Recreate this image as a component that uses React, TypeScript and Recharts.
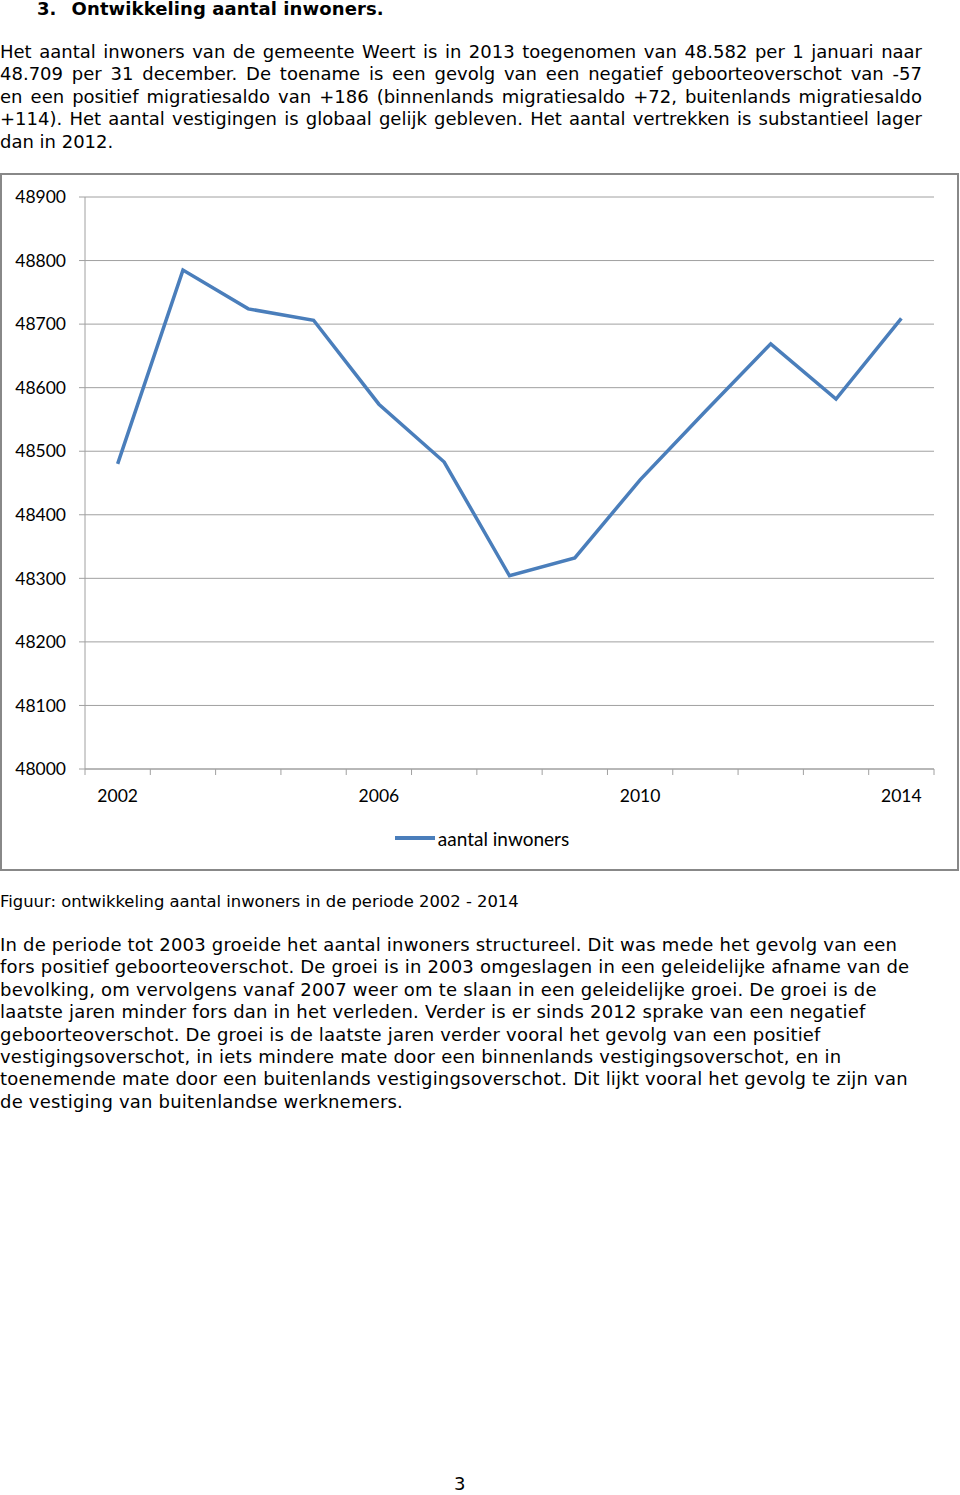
import { CartesianGrid, Legend, Line, LineChart, XAxis, YAxis } from 'recharts';

const years = [2002, 2003, 2004, 2005, 2006, 2007, 2008, 2009, 2010, 2011, 2012, 2013, 2014];
const inwoners = [48480, 48785, 48724, 48706, 48574, 48483, 48304, 48332, 48455, 48563, 48669, 48582, 48709];
const yTicks = [48000, 48100, 48200, 48300, 48400, 48500, 48600, 48700, 48800, 48900];
const yearLabels = [2002, 2006, 2010, 2014];
const yearBounds = [2001.5, 2002.5, 2003.5, 2004.5, 2005.5, 2006.5, 2007.5, 2008.5, 2009.5, 2010.5, 2011.5, 2012.5, 2013.5, 2014.5];

const intro = [
  'Het aantal inwoners van de gemeente Weert is in 2013 toegenomen van 48.582 per 1 januari naar',
  '48.709 per 31 december. De toename is een gevolg van een negatief geboorteoverschot van -57',
  'en een positief migratiesaldo van +186 (binnenlands migratiesaldo +72, buitenlands migratiesaldo',
  '+114). Het aantal vestigingen is globaal gelijk gebleven. Het aantal vertrekken is substantieel lager',
  'dan in 2012.',
];

const outro = [
  'In de periode tot 2003 groeide het aantal inwoners structureel. Dit was mede het gevolg van een',
  'fors positief geboorteoverschot. De groei is in 2003 omgeslagen in een geleidelijke afname van de',
  'bevolking, om vervolgens vanaf 2007 weer om te slaan in een geleidelijke groei. De groei is de',
  'laatste jaren minder fors dan in het verleden. Verder is er sinds 2012 sprake van een negatief',
  'geboorteoverschot. De groei is de laatste jaren verder vooral het gevolg van een positief',
  'vestigingsoverschot, in iets mindere mate door een binnenlands vestigingsoverschot, en in',
  'toenemende mate door een buitenlands vestigingsoverschot. Dit lijkt vooral het gevolg te zijn van',
  'de vestiging van buitenlandse werknemers.',
];

const data = years.map((y, i) => ({ year: y, value: inwoners[i] }));
const xTicks = [...yearBounds, ...yearLabels].sort((a, b) => a - b);

const chartFont = 'Lato, "Open Sans", sans-serif';
const gridColor = '#a0a0a0';

function XTick({ x, y, payload }: any) {
  const v = payload.value;
  if (!Number.isInteger(v)) {
    return <line x1={x} x2={x} y1={y - 33} y2={y - 27} stroke={gridColor} />;
  }
  return (
    <text x={x} y={y} textAnchor="middle" fontSize={17.5} fontFamily={chartFont} fill="#000">
      {v}
    </text>
  );
}

function LegendBox() {
  return (
    <div style={{ height: 62, display: 'flex', justifyContent: 'center', alignItems: 'center', paddingLeft: 5 }}>
      <span style={{ display: 'inline-block', width: 40, height: 4, background: '#4a7ebb', marginRight: 3 }} />
      <span style={{ fontFamily: chartFont, fontSize: 19, color: '#000' }}>aantal inwoners</span>
    </div>
  );
}

export default function App() {
  const body = {
    fontFamily: '"DejaVu Sans", Verdana, sans-serif',
    fontSize: 18,
    lineHeight: '22.4px',
    letterSpacing: 0.2,
    color: '#000',
  };
  return (
    <div style={{ position: 'absolute', top: 0, left: 0, width: 960, height: 1495, background: '#fff', overflow: 'hidden' }}>
      <div style={{ ...body, letterSpacing: 0.1, position: 'absolute', top: -2, left: 37, fontWeight: 'bold' }}>
        3.<span style={{ marginLeft: 15 }}>Ontwikkeling aantal inwoners.</span>
      </div>
      <div style={{ ...body, letterSpacing: 0, position: 'absolute', top: 41, left: 0, width: 922 }}>
        {intro.map((l, i) => (
          <div
            key={i}
            style={{ whiteSpace: 'nowrap', textAlign: 'justify', textAlignLast: i < intro.length - 1 ? 'justify' : 'left' }}
          >
            {l}
          </div>
        ))}
      </div>

      <div style={{ position: 'absolute', top: 173, left: 0, width: 955, height: 694, border: '2px solid #888' }}>
        <LineChart width={955} height={694} data={data} margin={{ top: 22, right: 23, bottom: 0, left: 0 }}>
          <CartesianGrid vertical={false} stroke={gridColor} />
          <XAxis
            dataKey="year"
            type="number"
            domain={[2001.5, 2014.5]}
            ticks={xTicks}
            interval={0}
            height={38}
            tickSize={0}
            tickMargin={33}
            tickLine={false}
            axisLine={{ stroke: gridColor }}
            tick={<XTick />}
          />
          <YAxis
            domain={[48000, 48900]}
            ticks={yTicks}
            interval={0}
            width={83}
            tickSize={6}
            tickMargin={13}
            axisLine={{ stroke: gridColor }}
            tickLine={{ stroke: gridColor }}
            tick={{ fontSize: 17.5, fontFamily: chartFont, fill: '#000' }}
          />
          <Legend verticalAlign="bottom" content={<LegendBox />} wrapperStyle={{ left: 0, width: 955 }} />
          <Line type="linear" dataKey="value" stroke="#4a7ebb" strokeWidth={3.5} dot={false} isAnimationActive={false} />
        </LineChart>
      </div>

      <div style={{ ...body, letterSpacing: 0, fontSize: 16.4, position: 'absolute', top: 891, left: 0 }}>
        Figuur: ontwikkeling aantal inwoners in de periode 2002 - 2014
      </div>
      <div style={{ ...body, position: 'absolute', top: 934, left: 0 }}>
        {outro.map((l, i) => (
          <div key={i}>{l}</div>
        ))}
      </div>
      <div style={{ ...body, position: 'absolute', top: 1473, left: 454 }}>3</div>
    </div>
  );
}
